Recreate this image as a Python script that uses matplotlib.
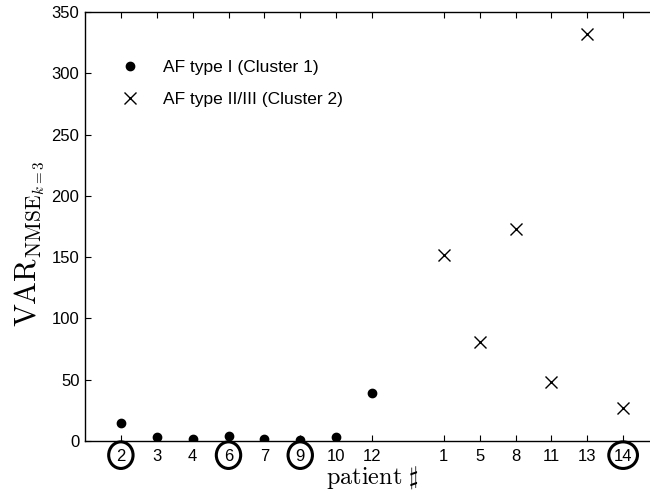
import matplotlib
matplotlib.use("Agg")
import matplotlib.pyplot as plt
from matplotlib.patches import Ellipse
import matplotlib.transforms as mtransforms

plt.rcParams['font.family'] = ['Liberation Sans', 'DejaVu Sans']
plt.rcParams['mathtext.fontset'] = 'cm'

# Data
c1_patients = ['2', '3', '4', '6', '7', '9', '10', '12']
c1_values = [15, 3, 1.5, 4, 2, 0.5, 3.5, 39]
c2_patients = ['1', '5', '8', '11', '13', '14']
c2_values = [152, 81, 173, 48, 332, 27]
circled = ['2', '6', '9', '14']

c1_pos = list(range(1, len(c1_patients) + 1))
c2_pos = list(range(len(c1_patients) + 2, len(c1_patients) + 2 + len(c2_patients)))

fig = plt.figure(figsize=(6.5, 4.91), dpi=100)
ax = fig.add_axes([85/650, 50/491, 574/650, 429/491])

ax.plot(c1_pos, c1_values, 'o', color='black', markersize=6, label='AF type I (Cluster 1)')
ax.plot(c2_pos, c2_values, 'x', color='black', markersize=9, markeredgewidth=1.0,
        label='AF type II/III (Cluster 2)')

ax.set_xlim(0, 16)
ax.set_ylim(0, 350)
ax.set_yticks(range(0, 351, 50))
ax.set_xticks(c1_pos + c2_pos)
ax.set_xticklabels(c1_patients + c2_patients)
ax.tick_params(axis='both', direction='in', top=True, right=True, labelsize=12, length=4, width=0.8)
ax.tick_params(axis='x', pad=6)
ax.tick_params(axis='y', pad=4)
for s in ax.spines.values():
    s.set_linewidth(1.0)

trans = mtransforms.blended_transform_factory(ax.transData, ax.transAxes)
all_pos = c1_pos + c2_pos
all_lab = c1_patients + c2_patients
for p, lab in zip(all_pos, all_lab):
    if lab in circled:
        w = 0.68 if len(lab) == 1 else 0.80
        e = Ellipse((p, -0.033), width=w, height=0.062, transform=trans,
                    fill=False, edgecolor='black', linewidth=2.2, clip_on=False)
        ax.add_patch(e)

ax.set_xlabel(r'$\mathrm{patient}\ \sharp$', fontsize=17.5, labelpad=0)
ax.set_ylabel(r'$\mathrm{VAR}_{\mathrm{NMSE}_{k=3}}$', fontsize=22)
ax.yaxis.set_label_coords(-0.066, 0.46)

ax.legend(loc='upper left', frameon=False, fontsize=12.5, bbox_to_anchor=(0.021, 0.925),
          handletextpad=0.88, numpoints=1, labelspacing=0.95)

fig.savefig('out.png', dpi=100)
